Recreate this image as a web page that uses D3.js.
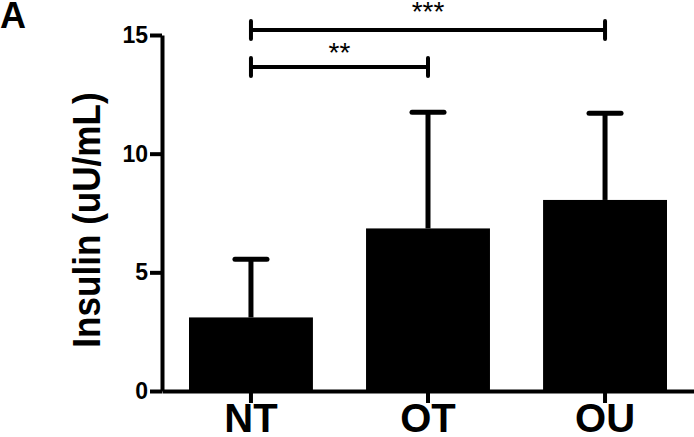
<!DOCTYPE html>
<html>
<head>
<meta charset="utf-8">
<script src="https://cdn.jsdelivr.net/npm/d3@7"></script>
<style>
  body { margin: 0; background: #fff; }
  text { font-family: "Liberation Sans", Arial, sans-serif; font-weight: bold; }
</style>
</head>
<body>
<div id="chart"></div>
<script>
// data
const groups = ["NT", "OT", "OU"];
const means = [3.1, 6.85, 8.05];
const errors = [2.45, 4.9, 3.65];
const yTicks = [0, 5, 10, 15];
// significance brackets: [from, to, label]
const sigFrom = ["NT", "NT"];
const sigTo = ["OT", "OU"];
const sigLabel = ["**", "***"];

(function() {
    let width = 694,
        height = 437;

    let svg = d3.select("#chart")
        .append("svg")
        .attr("width", width)
        .attr("height", height);

    let x = d3.scaleBand()
        .domain(groups)
        .range([162, 694])
        .paddingInner(0.3)
        .paddingOuter(0.1525);

    let y = d3.scaleLinear()
        .domain([0, 15])
        .range([391, 35]);

    let data = groups.map((g, i) => ({ name: g, value: means[i], err: errors[i] }));

    // bars
    svg.selectAll(".bar").data(data).enter()
        .append("rect")
        .attr("x", d => x(d.name))
        .attr("y", d => y(d.value))
        .attr("width", x.bandwidth())
        .attr("height", d => y(0) - y(d.value))
        .attr("fill", "#000");

    // error bars (upper only)
    let eb = svg.selectAll(".err").data(data).enter().append("g");
    eb.append("line")
        .attr("x1", d => x(d.name) + x.bandwidth() / 2)
        .attr("x2", d => x(d.name) + x.bandwidth() / 2)
        .attr("y1", d => y(d.value))
        .attr("y2", d => y(d.value + d.err))
        .attr("stroke", "#000").attr("stroke-width", 5);
    eb.append("line")
        .attr("x1", d => x(d.name) + x.bandwidth() / 2 - 16)
        .attr("x2", d => x(d.name) + x.bandwidth() / 2 + 16)
        .attr("y1", d => y(d.value + d.err))
        .attr("y2", d => y(d.value + d.err))
        .attr("stroke", "#000").attr("stroke-width", 5)
        .attr("stroke-linecap", "round");

    // y axis
    let yAxis = svg.append("g")
        .attr("transform", "translate(162,0)")
        .call(d3.axisLeft(y).tickValues(yTicks).tickSize(12).tickSizeOuter(0).tickPadding(2));
    yAxis.selectAll("path, line").attr("stroke", "#000").attr("stroke-width", 4);
    yAxis.selectAll("text").attr("font-size", 23).attr("fill", "#000")
        .attr("font-family", "Liberation Sans, Arial, sans-serif").attr("font-weight", "bold");

    // x axis
    let xAxis = svg.append("g")
        .attr("transform", `translate(0,${y(0)})`)
        .call(d3.axisBottom(x).tickSize(12).tickSizeOuter(0).tickPadding(1));
    xAxis.selectAll("path, line").attr("stroke", "#000").attr("stroke-width", 4);
    xAxis.selectAll("text").attr("font-size", 40).attr("fill", "#000")
        .attr("font-family", "Liberation Sans, Arial, sans-serif").attr("font-weight", "bold");

    // significance brackets
    let sigY = [67, 30];
    let starY = [62, 21];
    sigLabel.forEach((lab, i) => {
        let x1 = x(sigFrom[i]) + x.bandwidth() / 2;
        let x2 = x(sigTo[i]) + x.bandwidth() / 2;
        let g = svg.append("g");
        g.append("line").attr("x1", x1).attr("x2", x2).attr("y1", sigY[i]).attr("y2", sigY[i])
            .attr("stroke", "#000").attr("stroke-width", 4);
        [x1, x2].forEach(xx => {
            g.append("line").attr("x1", xx).attr("x2", xx)
                .attr("y1", sigY[i] - 9).attr("y2", sigY[i] + 9)
                .attr("stroke", "#000").attr("stroke-width", 4)
                .attr("stroke-linecap", "round");
        });
        g.append("text")
            .attr("x", (x1 + x2) / 2)
            .attr("y", starY[i])
            .attr("text-anchor", "middle")
            .attr("font-size", 28)
            .style("font-weight", "normal")
            .text(lab);
    });

    // y label
    svg.append("text")
        .attr("transform", "translate(100,220) rotate(-90) scale(0.9,1)")
        .attr("text-anchor", "middle")
        .attr("font-size", 39)
        .text("Insulin (uU/mL)");

    // panel letter
    svg.append("text")
        .attr("x", 0)
        .attr("y", 28)
        .attr("font-size", 36)
        .text("A");
})();
</script>
</body>
</html>
